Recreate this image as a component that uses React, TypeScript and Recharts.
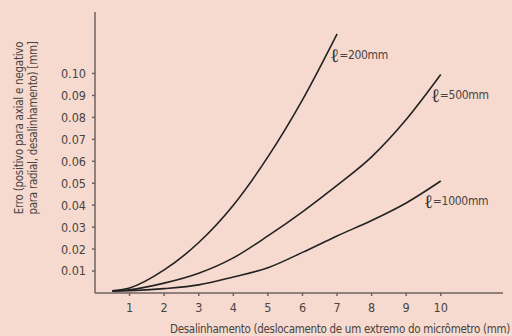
import { LineChart, Line, XAxis, YAxis } from 'recharts';

// Desalinhamento (mm) -> erro (mm)
const x200 = [0.5, 1, 2, 3, 4, 5, 6, 7];
const e200 = [0.001, 0.0023, 0.0105, 0.023, 0.040, 0.062, 0.088, 0.118];

const x500 = [0.5, 1, 2, 3, 4, 5, 6, 7, 8, 9, 10];
const e500 = [0.001, 0.0015, 0.0045, 0.009, 0.016, 0.026, 0.037, 0.049, 0.062, 0.079, 0.0995];

const x1000 = [0.5, 1, 2, 3, 4, 5, 6, 7, 8, 9, 10];
const e1000 = [0.0008, 0.001, 0.002, 0.0037, 0.0073, 0.0115, 0.0185, 0.026, 0.033, 0.041, 0.051];

const xTicks = [1, 2, 3, 4, 5, 6, 7, 8, 9, 10];
const yTicks = [0.01, 0.02, 0.03, 0.04, 0.05, 0.06, 0.07, 0.08, 0.09, 0.1];

const seriesNames = ['=200mm', '=500mm', '=1000mm'];

const BG = '#f6dacf';
const AXIS = '#6e6360';
const INK = '#222222';
const TEXT = '#4a4442';
const FONT = '"DejaVu Sans Condensed", "DejaVu Sans", sans-serif';

const toRows = (xs: number[], ys: number[]) => xs.map((x, i) => ({ x, y: ys[i] }));

const series = [
    { name: seriesNames[0], data: toRows(x200, e200), dx: -7, dy: 21 },
    { name: seriesNames[1], data: toRows(x500, e500), dx: -10, dy: 20 },
    { name: seriesNames[2], data: toRows(x1000, e1000), dx: -17, dy: 20 },
];

const endLabel = (name: string, count: number, dx: number, dy: number) =>
    (props: any) => {
        if (props.index !== count - 1) return null;
        return (
            <text x={props.x + dx} y={props.y + dy} fill={TEXT} fontFamily={FONT} dominantBaseline="central">
                <tspan fontSize={19} fontFamily='"DejaVu Serif", serif' fill="#333">ℓ</tspan>
                <tspan fontSize={12} letterSpacing={-0.3}>{name}</tspan>
            </text>
        );
    };

const YLabel = () => (
    <g transform="translate(27, 128) rotate(-90)">
        <text textAnchor="middle" fontFamily={FONT} fontSize={11.5} letterSpacing={-0.25} fill={TEXT}>
            <tspan x={0} y={-4}>Erro (positivo para axial e negativo</tspan>
            <tspan x={0} y={10}>para radial, desalinhamento) [mm]</tspan>
        </text>
    </g>
);

const XLabel = () => (
    <text x={510} y={333} textAnchor="end" fontFamily={FONT} fontSize={11.5} letterSpacing={-0.3} fill={TEXT}>
        Desalinhamento (deslocamento de um extremo do micrômetro (mm)
    </text>
);

export default function App() {
    return (
        <div style={{ position: 'absolute', left: 0, top: 0, width: 512, height: 336, background: BG }}>
            <LineChart width={512} height={336} margin={{ top: 12, right: 9, left: 0, bottom: 0 }}>
                <XAxis
                    type="number"
                    dataKey="x"
                    domain={[0, 11.8]}
                    ticks={xTicks}
                    height={43}
                    stroke={AXIS}
                    strokeWidth={1.5}
                    tickSize={3}
                    tick={{ fill: TEXT, fontSize: 12.5, fontFamily: FONT, dy: 5 }}
                    label={{ content: <XLabel /> }}
                    allowDuplicatedCategory={false}
                />
                <YAxis
                    type="number"
                    dataKey="y"
                    domain={[0, 0.128]}
                    ticks={yTicks}
                    width={95}
                    stroke={AXIS}
                    strokeWidth={1.5}
                    tickSize={3}
                    tickMargin={6}
                    tickFormatter={(v: number) => v.toFixed(2)}
                    tick={{ fill: TEXT, fontSize: 12.5, fontFamily: FONT }}
                    label={{ content: <YLabel /> }}
                />
                {series.map((s) => (
                    <Line
                        key={s.name}
                        data={s.data}
                        dataKey="y"
                        type="monotone"
                        stroke={INK}
                        strokeWidth={1.6}
                        dot={false}
                        isAnimationActive={false}
                        label={endLabel(s.name, s.data.length, s.dx, s.dy)}
                    />
                ))}
            </LineChart>
        </div>
    );
}
